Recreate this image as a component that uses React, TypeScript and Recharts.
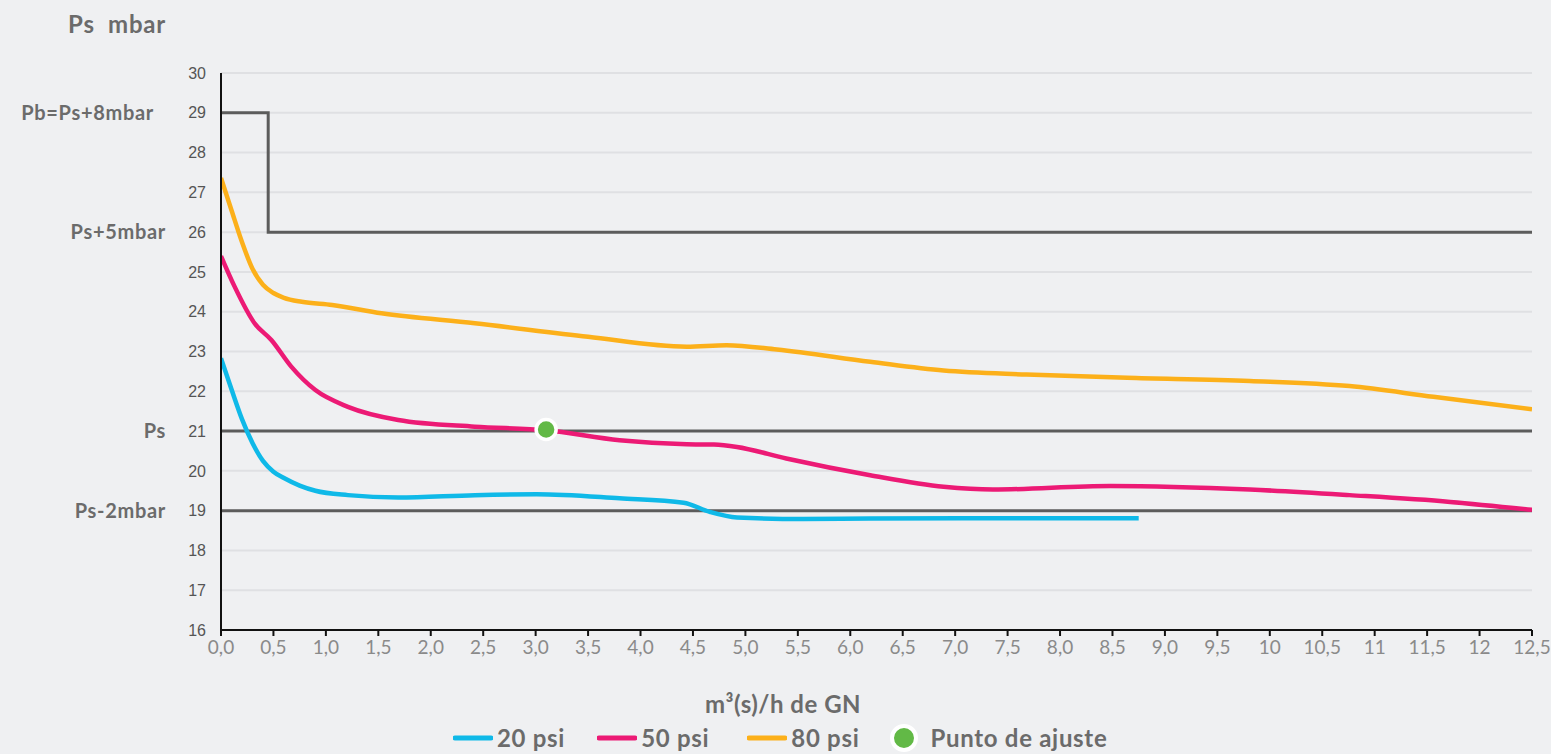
import React from 'react';
import {
  ComposedChart,
  Line,
  Scatter,
  XAxis,
  YAxis,
  CartesianGrid,
  ReferenceLine,
  Legend,
} from 'recharts';

// ---- Data ----
const xTicks = [0, 0.5, 1, 1.5, 2, 2.5, 3, 3.5, 4, 4.5, 5, 5.5, 6, 6.5, 7, 7.5, 8, 8.5, 9, 9.5, 10, 10.5, 11, 11.5, 12, 12.5];
const xTickLabels = ['0,0', '0,5', '1,0', '1,5', '2,0', '2,5', '3,0', '3,5', '4,0', '4,5', '5,0', '5,5', '6,0', '6,5', '7,0', '7,5', '8,0', '8,5', '9,0', '9,5', '10', '10,5', '11', '11,5', '12', '12,5'];
const yTicks = [16, 17, 18, 19, 20, 21, 22, 23, 24, 25, 26, 27, 28, 29, 30];

const psi20X = [0, 0.1, 0.2, 0.3, 0.4, 0.5, 0.6, 0.75, 0.9, 1.21, 1.69, 2.42, 3.01, 3.8, 4.41, 4.66, 4.92, 5.55, 6.19, 7.5, 8.75];
const psi20Y = [22.83, 22.05, 21.3, 20.7, 20.25, 19.98, 19.82, 19.63, 19.5, 19.39, 19.33, 19.39, 19.41, 19.31, 19.2, 18.97, 18.83, 18.79, 18.8, 18.81, 18.81];

const psi50X = [0, 0.13, 0.32, 0.48, 0.67, 0.9, 1.21, 1.69, 2.42, 3.1, 3.8, 4.44, 4.7, 4.92, 5.39, 6.19, 6.89, 7.36, 8.48, 9.81, 10.76, 11.72, 12.5];
const psi50Y = [25.4, 24.63, 23.71, 23.29, 22.62, 22.03, 21.61, 21.28, 21.11, 21.02, 20.77, 20.67, 20.66, 20.6, 20.31, 19.89, 19.6, 19.53, 19.62, 19.53, 19.39, 19.22, 19.02];

const psi80X = [0, 0.1, 0.2, 0.3, 0.4, 0.5, 0.6, 0.77, 1.06, 1.53, 2.42, 3.5, 4.44, 4.82, 5.3, 6.19, 6.89, 7.68, 8.64, 9.81, 10.76, 11.56, 12.5];
const psi80Y = [27.36, 26.55, 25.75, 25.08, 24.68, 24.47, 24.35, 24.25, 24.17, 23.96, 23.71, 23.37, 23.12, 23.16, 23.05, 22.74, 22.52, 22.42, 22.34, 22.26, 22.13, 21.86, 21.55];

const stepX = [0, 0.45, 12.5];
const stepY = [29, 26, 26];
const fullRangeX = [0, 12.5];
const psLevel = 21;
const psMinus2Level = 19;

const adjustPoint = [{ x: 3.1, y: 21.04 }];

const levelLabels = [
  { value: 29, text: 'Pb=Ps+8mbar' },
  { value: 26, text: 'Ps+5mbar' },
  { value: 21, text: 'Ps' },
  { value: 19, text: 'Ps-2mbar' },
];

const legendItems = [
  { label: '20 psi', kind: 'line', color: '#0fb9e8' },
  { label: '50 psi', kind: 'line', color: '#ec1a75' },
  { label: '80 psi', kind: 'line', color: '#fcb01a' },
  { label: 'Punto de ajuste', kind: 'dot', color: '#62b946' },
];
const legendGaps = [32, 38, 29, 0];

// ---- built tables ----
const zip = (xs: number[], ys: number[]) => xs.map((x, i) => ({ x, y: ys[i] }));
const data20 = zip(psi20X, psi20Y);
const data50 = zip(psi50X, psi50Y);
const data80 = zip(psi80X, psi80Y);
const stepData = zip(stepX, stepY);
const psData = fullRangeX.map((x) => ({ x, y: psLevel }));
const psMinus2Data = fullRangeX.map((x) => ({ x, y: psMinus2Level }));

const GRAY = '#5c5c5c';
const LABEL_GRAY = '#6b6b6b';

const renderLegend = () => (
  <div
    style={{
      display: 'flex',
      justifyContent: 'flex-start',
      alignItems: 'center',
      height: 28,
      fontFamily: 'Lato, sans-serif',
      fontWeight: 700,
      fontSize: 24,
      letterSpacing: 0.7,
      color: LABEL_GRAY,
      paddingLeft: 453,
    }}
  >
    {legendItems.map((it, i) => (
      <div key={it.label} style={{ display: 'flex', alignItems: 'center', marginRight: legendGaps[i] }}>
        {it.kind === 'line' ? (
          <svg width={40} height={8} style={{ marginRight: 4 }}>
            <line x1={2} y1={4} x2={38} y2={4} stroke={it.color} strokeWidth={5} strokeLinecap="round" />
          </svg>
        ) : (
          <svg width={32} height={32} style={{ marginRight: 10 }}>
            <circle cx={16} cy={16} r={12} fill={it.color} stroke="#ffffff" strokeWidth={4} />
          </svg>
        )}
        <span style={{ lineHeight: '28px' }}>{it.label}</span>
      </div>
    ))}
  </div>
);

const AdjustDot = (props: any) => {
  const { cx, cy } = props;
  return <circle cx={cx} cy={cy} r={10} fill="#62b946" stroke="#ffffff" strokeWidth={3.5} />;
};

export default function App() {
  return (
    <div
      style={{
        position: 'absolute',
        left: 0,
        top: 0,
        width: 1551,
        height: 754,
        background: '#eff0f2',
        overflow: 'hidden',
        fontFamily: 'Lato, sans-serif',
      }}
    >
      <div
        style={{
          position: 'absolute',
          left: 68,
          top: 9,
          fontSize: 24,
          letterSpacing: 0.8,
          fontWeight: 700,
          color: LABEL_GRAY,
          whiteSpace: 'pre',
        }}
      >
        {'Ps  mbar'}
      </div>
      <div
        style={{
          position: 'absolute',
          left: 583,
          width: 400,
          top: 689,
          textAlign: 'center',
          fontSize: 24,
          letterSpacing: 0.5,
          fontWeight: 700,
          color: LABEL_GRAY,
        }}
      >
        m³(s)/h de GN
      </div>
      <ComposedChart
        width={1551}
        height={754}
        margin={{ top: 73, right: 19, left: 0, bottom: 0 }}
        style={{ position: 'absolute', left: 0, top: 0 }}
      >
        <CartesianGrid vertical={false} stroke="#dfe0e3" strokeWidth={2} />
        <XAxis
          type="number"
          dataKey="x"
          domain={[0, 12.5]}
          ticks={xTicks}
          interval={0}
          tickFormatter={(v: number) => xTickLabels[xTicks.indexOf(v)] ?? String(v)}
          height={96}
          axisLine={{ stroke: '#111111', strokeWidth: 2 }}
          tickLine={{ stroke: '#111111', strokeWidth: 2 }}
          tickSize={6}
          tickMargin={5}
          tick={{ fill: '#8a8a8a', fontSize: 19, fontFamily: 'Lato, sans-serif' }}
          allowDataOverflow
        />
        <YAxis
          type="number"
          dataKey="y"
          domain={[16, 30]}
          ticks={yTicks}
          interval={0}
          width={221}
          axisLine={{ stroke: '#111111', strokeWidth: 2 }}
          tickLine={false}
          tickMargin={9}
          tick={{ fill: '#555555', fontSize: 16, fontFamily: '"Liberation Sans", Arial, sans-serif' }}
          allowDataOverflow
        />
        {levelLabels.map((l) => (
          <ReferenceLine
            key={l.text}
            y={l.value}
            stroke="none"
            strokeWidth={0}
            label={{
              value: l.text,
              position: 'left',
              offset: l.value === 29 ? 67 : 55,
              fill: LABEL_GRAY,
              fontSize: 20,
              fontWeight: 700,
              letterSpacing: 0.7,
              fontFamily: 'Lato, sans-serif',
            }}
          />
        ))}
        <Line data={stepData} dataKey="y" type="stepAfter" stroke={GRAY} strokeWidth={3} dot={false} activeDot={false} isAnimationActive={false} legendType="none" />
        <Line data={psData} dataKey="y" type="linear" stroke={GRAY} strokeWidth={3} dot={false} activeDot={false} isAnimationActive={false} legendType="none" />
        <Line data={psMinus2Data} dataKey="y" type="linear" stroke={GRAY} strokeWidth={3} dot={false} activeDot={false} isAnimationActive={false} legendType="none" />
        <Line data={data80} dataKey="y" name="80 psi" type="monotone" stroke="#fcb01a" strokeWidth={4.5} dot={false} activeDot={false} isAnimationActive={false} />
        <Line data={data50} dataKey="y" name="50 psi" type="monotone" stroke="#ec1a75" strokeWidth={4.5} dot={false} activeDot={false} isAnimationActive={false} />
        <Line data={data20} dataKey="y" name="20 psi" type="monotone" stroke="#0fb9e8" strokeWidth={4.5} dot={false} activeDot={false} isAnimationActive={false} />
        <Scatter data={adjustPoint} dataKey="y" name="Punto de ajuste" shape={AdjustDot} isAnimationActive={false} />
        <Legend
          verticalAlign="bottom"
          content={renderLegend}
          wrapperStyle={{ left: 0, width: 1551, bottom: 2, height: 28 }}
        />
      </ComposedChart>
    </div>
  );
}
